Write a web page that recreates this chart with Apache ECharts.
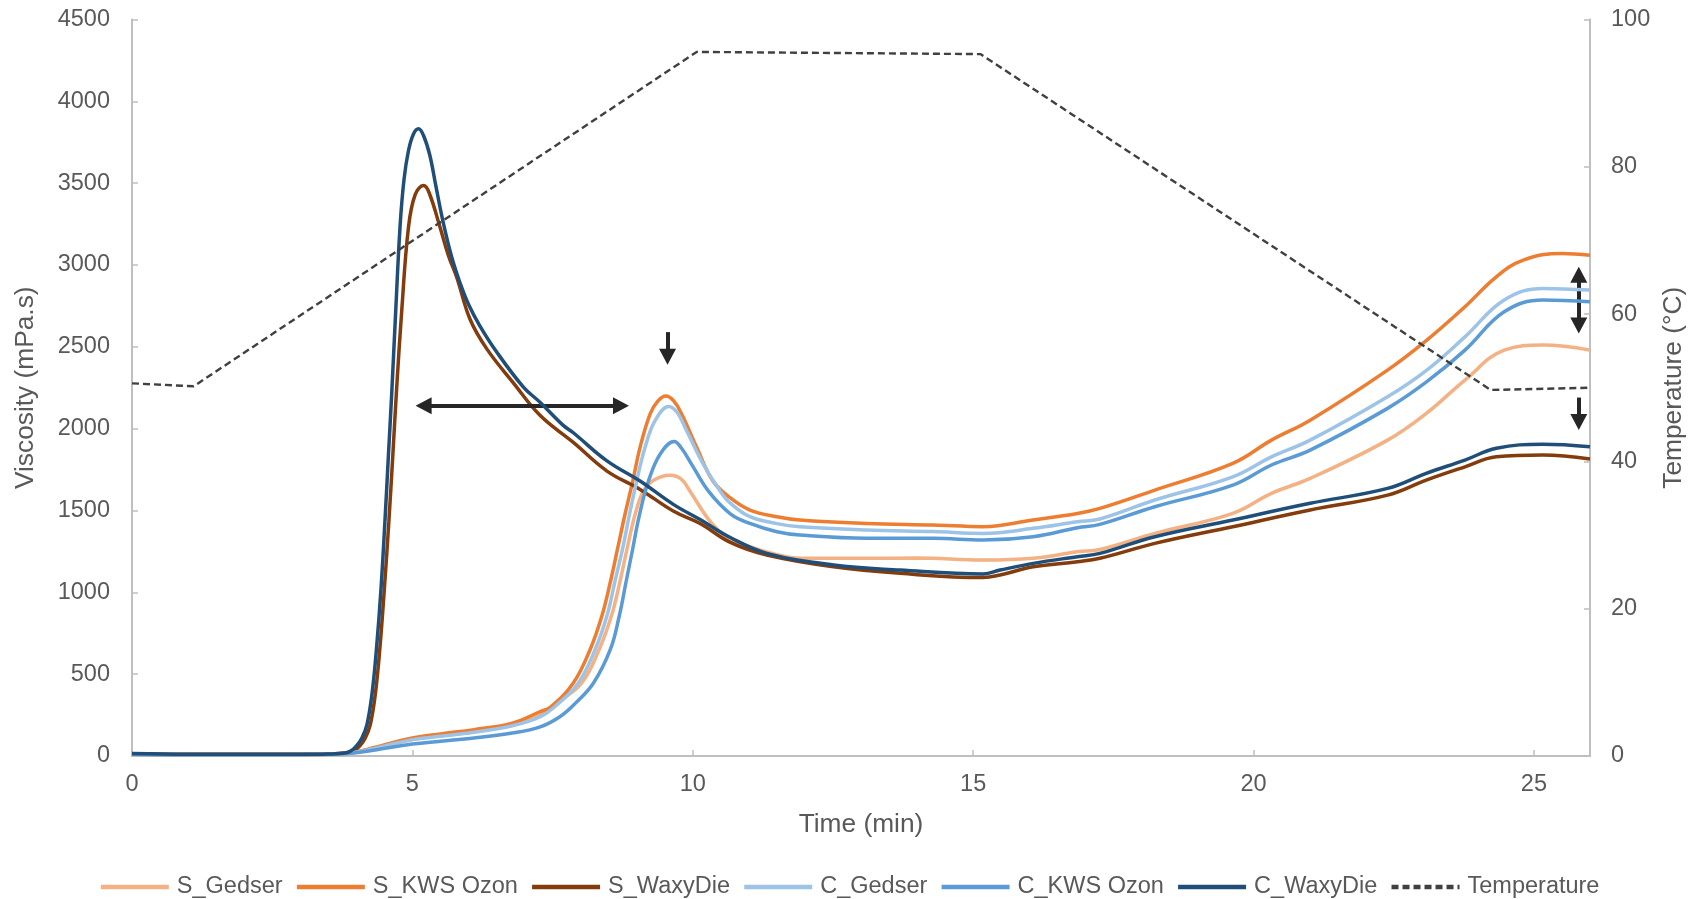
<!DOCTYPE html>
<html>
<head>
<meta charset="utf-8">
<title>Viscosity and temperature profile</title>
<script src="https://cdn.jsdelivr.net/npm/echarts@6/dist/echarts.min.js"></script>
<style>
  html, body { margin: 0; padding: 0; background: #ffffff; }
  #chart { width: 1698px; height: 899px; }
</style>
</head>
<body>
<div id="chart"></div>
<script>
// Pasting profiles: [time (min), viscosity (mPa.s)]
const sGedser = [[0,10],[1,8],[2,8],[3,8],[3.5,10],[3.9,18],[4.3,45],[5.0,100],[5.5,125],[6.1,150],[6.8,190],[7.28,250],[7.6,330],[8.02,446],[8.33,651],[8.55,857],[8.70,1063],[8.83,1268],[8.97,1474],[9.12,1618],[9.3,1685],[9.6,1715],[9.8,1690],[9.95,1618],[10.31,1433],[10.6,1340],[11.02,1279],[11.5,1230],[11.91,1208],[13.1,1208],[14.0,1210],[15.18,1197],[16.07,1208],[16.86,1248],[17.26,1262],[18.24,1360],[19.63,1483],[20.32,1605],[21.01,1696],[22.39,1930],[23.08,2093],[23.77,2297],[24.47,2480],[25.16,2511],[26,2480]];
const sKwsOzon = [[0,10],[1,8],[2,8],[3,8],[3.5,10],[3.9,20],[4.3,50],[5.0,110],[5.5,135],[6.1,161],[6.78,201],[7.28,271],[7.47,300],[7.87,446],[8.17,651],[8.38,857],[8.53,1063],[8.66,1268],[8.79,1474],[8.93,1680],[9.06,1886],[9.24,2091],[9.38,2170],[9.52,2200],[9.66,2170],[9.8,2091],[10.07,1886],[10.36,1680],[10.67,1577],[11.02,1503],[11.5,1462],[11.91,1442],[13.1,1421],[14.29,1411],[15.18,1401],[16.07,1442],[16.86,1482],[17.26,1513],[18.24,1625],[19.63,1788],[20.32,1930],[21.01,2052],[22.39,2358],[23.09,2541],[23.77,2745],[24.33,2928],[24.81,3030],[25.5,3071],[26,3060]];
const sWaxyDie = [[0,12],[1,10],[2,10],[3,10],[3.5,12],[3.8,18],[3.95,30],[4.06,60],[4.16,110],[4.25,192],[4.34,380],[4.42,657],[4.5,1020],[4.58,1430],[4.65,1830],[4.72,2250],[4.81,2720],[4.93,3230],[5.05,3430],[5.2,3485],[5.3,3440],[5.49,3234],[5.64,3060],[5.79,2926],[6.03,2667],[6.33,2486],[6.8,2280],[7.28,2080],[7.87,1916],[8.47,1741],[9.06,1629],[9.66,1495],[10.13,1421],[10.67,1305],[11.32,1228],[12.51,1156],[13.7,1116],[15.18,1090],[15.48,1106],[16.07,1156],[16.86,1187],[17.26,1208],[18.24,1299],[19.63,1401],[21.01,1503],[22.39,1594],[23.08,1686],[23.77,1767],[24.33,1828],[25.16,1839],[26,1815]];
const cGedser = [[0,10],[1,8],[2,8],[3,8],[3.5,10],[3.9,18],[4.3,45],[5.0,100],[5.5,120],[6.1,145],[6.78,185],[7.28,240],[7.6,320],[7.96,446],[8.26,651],[8.47,857],[8.61,1063],[8.75,1268],[8.87,1474],[9.0,1680],[9.15,1886],[9.33,2050],[9.57,2136],[9.72,2100],[9.89,1988],[10.19,1782],[10.49,1618],[10.67,1545],[11.02,1462],[11.5,1420],[11.91,1401],[13.1,1381],[14.29,1371],[15.18,1360],[16.07,1391],[16.86,1431],[17.26,1448],[18.24,1564],[19.63,1706],[20.32,1828],[21.01,1930],[22.39,2195],[23.09,2358],[23.77,2561],[24.47,2786],[25.16,2857],[26,2847]];
const cKwsOzon = [[0,10],[1,8],[2,8],[3,8],[3.5,10],[3.9,16],[4.3,35],[5.0,73],[5.5,90],[6.1,110],[6.78,140],[7.28,178],[7.63,240],[7.9,320],[8.23,446],[8.53,651],[8.69,857],[8.81,1063],[8.93,1268],[9.05,1474],[9.21,1680],[9.42,1845],[9.67,1921],[9.8,1880],[9.98,1782],[10.28,1618],[10.67,1480],[11.02,1421],[11.5,1370],[11.91,1350],[13.1,1330],[14.29,1330],[15.18,1320],[16.07,1340],[16.86,1395],[17.26,1415],[18.24,1523],[19.63,1655],[20.32,1778],[21.01,1869],[22.39,2124],[23.09,2287],[23.77,2480],[24.47,2714],[25.16,2786],[26,2775]];
const cWaxyDie = [[0,15],[1,10],[2,10],[3,10],[3.5,12],[3.8,18],[3.9,30],[4.0,60],[4.1,110],[4.19,192],[4.28,380],[4.36,657],[4.44,1020],[4.51,1430],[4.57,1820],[4.63,2205],[4.7,2700],[4.78,3234],[4.85,3520],[4.93,3698],[5.02,3800],[5.11,3832],[5.2,3790],[5.31,3672],[5.42,3480],[5.55,3260],[5.7,3050],[5.85,2890],[6.0,2760],[6.2,2630],[6.5,2470],[6.98,2254],[7.28,2160],[7.69,2020],[7.87,1975],[8.47,1803],[9.06,1680],[9.66,1536],[10.13,1445],[10.67,1335],[11.32,1238],[12.51,1167],[13.7,1136],[15.18,1112],[15.48,1136],[16.07,1177],[16.86,1218],[17.26,1238],[18.24,1340],[19.63,1442],[21.01,1544],[22.39,1635],[23.08,1727],[23.77,1808],[24.33,1880],[25.16,1905],[26,1890]];

// Heating / cooling program: [time (min), temperature (°C)]
const temperature = [[0,50.6],[1.1,50.2],[10.07,95.6],[15.13,95.3],[24.23,49.7],[26,50.0]];

const seriesNames = ['S_Gedser', 'S_KWS Ozon', 'S_WaxyDie', 'C_Gedser', 'C_KWS Ozon', 'C_WaxyDie', 'Temperature'];
const seriesColors = ['#F4B183', '#ED7D31', '#843C0C', '#9DC3E6', '#5B9BD5', '#1F4E79', '#404040'];
const viscositySets = [sGedser, sKwsOzon, sWaxyDie, cGedser, cKwsOzon, cWaxyDie];

// Annotation arrows in (time, viscosity) units: [from, to, double-headed]
const arrows = [
  [[5.2, 2140], [8.72, 2140], true],
  [[9.55, 2590], [9.55, 2440], false],
  [[25.8, 2940], [25.8, 2630], true],
  [[25.8, 2190], [25.8, 2040], false]
];

const textColor = '#595959';
const axisGray = '#BFBFBF';
const font = '"Liberation Sans", Arial, sans-serif';

const chart = echarts.init(document.getElementById('chart'), null, { renderer: 'canvas' });

const series = viscositySets.map((d, i) => ({
  name: seriesNames[i],
  type: 'line',
  data: d,
  yAxisIndex: 0,
  symbol: 'none',
  smooth: 0.4,
  lineStyle: { color: seriesColors[i], width: 3.5 },
  itemStyle: { color: seriesColors[i] },
  emphasis: { disabled: true },
  z: 2 + i
}));

series.push({
  name: 'Temperature',
  type: 'line',
  data: temperature,
  yAxisIndex: 1,
  symbol: 'none',
  lineStyle: { color: '#404040', width: 2.4, type: [7, 4] },
  itemStyle: { color: '#404040' },
  emphasis: { disabled: true },
  z: 9
});

series.push({
  name: 'annotations',
  type: 'line',
  data: [],
  yAxisIndex: 0,
  symbol: 'none',
  z: 20,
  markLine: {
    silent: true,
    animation: false,
    symbolSize: [17, 16],
    label: { show: false },
    lineStyle: { color: '#262626', width: 4, type: 'solid' },
    emphasis: { disabled: true },
    data: arrows.map(a => [
      { coord: a[0], symbol: a[2] ? 'triangle' : 'none' },
      { coord: a[1], symbol: 'triangle' }
    ])
  }
});

const plainNumber = v => String(v);

chart.setOption({
  animation: false,
  backgroundColor: '#ffffff',
  textStyle: { fontFamily: font, color: textColor },
  grid: { left: 132, right: 108, top: 19.5, bottom: 143, containLabel: false },
  legend: {
    data: seriesNames,
    bottom: -5,
    left: 'center',
    itemWidth: 68,
    itemHeight: 14,
    itemGap: 12,
    itemStyle: { opacity: 0 },
    lineStyle: { width: 4.5 },
    textStyle: { fontFamily: font, fontSize: 23.5, color: textColor, padding: [0, 0, 0, 3] },
    selectedMode: false
  },
  xAxis: {
    type: 'value',
    min: 0,
    max: 26,
    interval: 5,
    name: 'Time (min)',
    nameLocation: 'middle',
    nameGap: 56,
    nameTextStyle: { fontFamily: font, fontSize: 26.3, color: textColor },
    axisLine: { show: true, lineStyle: { color: axisGray, width: 2 } },
    axisTick: { show: true, inside: true, length: 6, lineStyle: { color: axisGray, width: 1.5 } },
    axisLabel: { fontFamily: font, fontSize: 23.5, color: textColor, margin: 17, showMaxLabel: false, formatter: plainNumber },
    splitLine: { show: false }
  },
  yAxis: [
    {
      type: 'value',
      min: 0,
      max: 4500,
      interval: 500,
      position: 'left',
      name: 'Viscosity (mPa.s)',
      nameLocation: 'middle',
      nameGap: 93,
      nameTextStyle: { fontFamily: font, fontSize: 26.3, color: textColor },
      axisLine: { show: true, lineStyle: { color: axisGray, width: 2 } },
      axisTick: { show: true, inside: true, length: 6, lineStyle: { color: axisGray, width: 1.5 } },
      axisLabel: { fontFamily: font, fontSize: 23.5, color: textColor, margin: 22, formatter: plainNumber },
      splitLine: { show: false }
    },
    {
      type: 'value',
      min: 0,
      max: 100,
      interval: 20,
      position: 'right',
      name: 'Temperature (°C)',
      nameLocation: 'middle',
      nameGap: 62,
      nameTextStyle: { fontFamily: font, fontSize: 26.3, color: textColor },
      axisLine: { show: true, lineStyle: { color: axisGray, width: 2 } },
      axisTick: { show: true, inside: true, length: 6, lineStyle: { color: axisGray, width: 1.5 } },
      axisLabel: { fontFamily: font, fontSize: 23.5, color: textColor, margin: 21, formatter: plainNumber },
      splitLine: { show: false }
    }
  ],
  series: series
});
</script>
</body>
</html>
